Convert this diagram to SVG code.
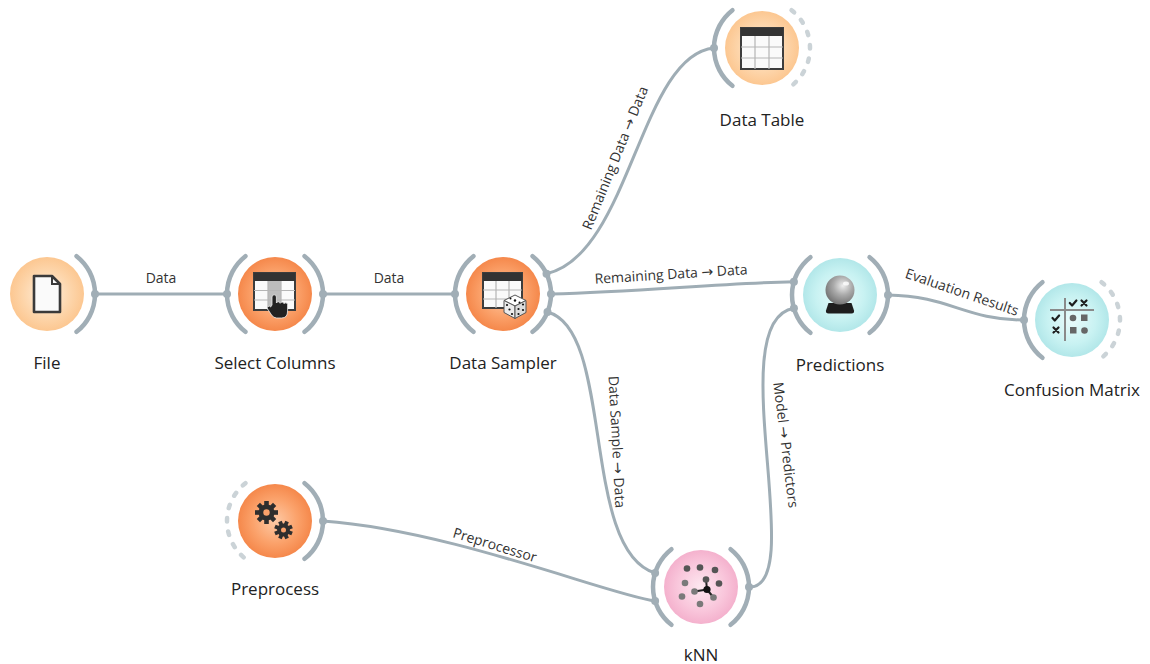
<svg xmlns="http://www.w3.org/2000/svg" width="1150" height="664" viewBox="0 0 1150 664">
<style>
.edge{fill:none;stroke:#9fadb5;stroke-width:3;stroke-linecap:round}
.arc{fill:none;stroke:#a1aeb6;stroke-width:4.5;stroke-linecap:round}
.arcd{fill:none;stroke:#cbd3d7;stroke-width:4.5;stroke-linecap:round;stroke-dasharray:3.5 10}
.anchor{fill:#a1aeb6}
.lbl{font-family:"Open Sans","Noto Sans","DejaVu Sans",sans-serif;font-size:17px;fill:#222;text-anchor:middle}
.elbl{font-family:"Open Sans","Noto Sans","DejaVu Sans",sans-serif;font-size:14px;fill:#333;text-anchor:middle}
.tbl{fill:#fafafa;stroke:#3d3d3d;stroke-width:2}
.hdr{fill:#333}
.grid{stroke:#b5b5b5;stroke-width:1.2;fill:none}
.gear{fill:#2e2e2e}
</style>
<defs>
<radialGradient id="gData" cx="50%" cy="50%" r="50%">
<stop offset="0" stop-color="#fff0df"/><stop offset="0.65" stop-color="#fdd5aa"/><stop offset="1" stop-color="#fcc791"/>
</radialGradient>
<radialGradient id="gTrans" cx="50%" cy="50%" r="50%">
<stop offset="0" stop-color="#fdcaa6"/><stop offset="0.6" stop-color="#fba26b"/><stop offset="1" stop-color="#f5884b"/>
</radialGradient>
<radialGradient id="gEval" cx="50%" cy="50%" r="50%">
<stop offset="0" stop-color="#eafbfb"/><stop offset="0.65" stop-color="#c8f2f2"/><stop offset="1" stop-color="#b2e7e9"/>
</radialGradient>
<radialGradient id="gModel" cx="50%" cy="50%" r="50%">
<stop offset="0" stop-color="#fde8f0"/><stop offset="0.65" stop-color="#f9c6db"/><stop offset="1" stop-color="#f4b1cd"/>
</radialGradient>
<radialGradient id="gBall" cx="60%" cy="35%" r="65%">
<stop offset="0" stop-color="#eeeeee"/><stop offset="0.5" stop-color="#aaaaaa"/><stop offset="1" stop-color="#767676"/>
</radialGradient>
<path id="arcR" d="M29.55,-37.82 A48,48 0 0 1 29.55,37.82"/>
<path id="arcL" d="M-29.55,-37.82 A48,48 0 0 0 -29.55,37.82"/>
<g id="gearBig">
<rect x="-2.3" y="-11.5" width="4.6" height="6" transform="rotate(0)"/>
<rect x="-2.3" y="-11.5" width="4.6" height="6" transform="rotate(45)"/>
<rect x="-2.3" y="-11.5" width="4.6" height="6" transform="rotate(90)"/>
<rect x="-2.3" y="-11.5" width="4.6" height="6" transform="rotate(135)"/>
<rect x="-2.3" y="-11.5" width="4.6" height="6" transform="rotate(180)"/>
<rect x="-2.3" y="-11.5" width="4.6" height="6" transform="rotate(225)"/>
<rect x="-2.3" y="-11.5" width="4.6" height="6" transform="rotate(270)"/>
<rect x="-2.3" y="-11.5" width="4.6" height="6" transform="rotate(315)"/>
<circle r="8"/>
</g>
<g id="gearSmall">
<rect x="-1.9" y="-9.3" width="3.8" height="5" transform="rotate(22.5)"/>
<rect x="-1.9" y="-9.3" width="3.8" height="5" transform="rotate(67.5)"/>
<rect x="-1.9" y="-9.3" width="3.8" height="5" transform="rotate(112.5)"/>
<rect x="-1.9" y="-9.3" width="3.8" height="5" transform="rotate(157.5)"/>
<rect x="-1.9" y="-9.3" width="3.8" height="5" transform="rotate(202.5)"/>
<rect x="-1.9" y="-9.3" width="3.8" height="5" transform="rotate(247.5)"/>
<rect x="-1.9" y="-9.3" width="3.8" height="5" transform="rotate(292.5)"/>
<rect x="-1.9" y="-9.3" width="3.8" height="5" transform="rotate(337.5)"/>
<circle r="6.4"/>
</g>
</defs>
<rect width="1150" height="664" fill="#ffffff"/>

<g id="connectors">
<path class="edge" d="M95,294 H227"/>
<text class="elbl" x="161" y="283">Data</text>
<path class="edge" d="M323,294 H455"/>
<text class="elbl" x="389" y="283">Data</text>
<path class="edge" d="M546.5,273.7 C630,255 640,55 714,48"/>
<text class="elbl" transform="translate(615,158) rotate(-68)" y="5">Remaining Data → Data</text>
<path class="edge" d="M551,294 C640,292 720,283 793.9,281.8"/>
<text class="elbl" transform="translate(671,274) rotate(-3.6)" y="5">Remaining Data → Data</text>
<path class="edge" d="M547.5,312 C615,330 580,550 655.1,573"/>
<text class="elbl" transform="translate(617,442) rotate(87)" y="5">Data Sample → Data</text>
<path class="edge" d="M749,587 C810,590 720,320 793.9,308.2"/>
<text class="elbl" transform="translate(786,445) rotate(83)" y="5">Model → Predictors</text>
<path class="edge" d="M888,295 C950,296 965,320 1024,320"/>
<text class="elbl" transform="translate(962,292) rotate(19)" y="5">Evaluation Results</text>
<path class="edge" d="M323,521 C450,530 610,595 655.1,601"/>
<text class="elbl" transform="translate(495,545) rotate(17)" y="5">Preprocessor</text>
</g>

<g id="node-file">
<circle cx="47" cy="294" r="37" fill="url(#gData)"/>
<use href="#arcR" x="47" y="294" class="arc"/>
<circle class="anchor" cx="95" cy="294" r="4"/>
<path d="M34,276 H52 L60,284 V312 H34 Z" fill="#fafafa" stroke="#3a3a3a" stroke-width="2.6" stroke-linejoin="round"/>
<path d="M52,276 V284 H60" fill="none" stroke="#3a3a3a" stroke-width="2"/>
<text class="lbl" x="47" y="369">File</text>
</g>

<g id="node-select-columns">
<circle cx="275" cy="294" r="37" fill="url(#gTrans)"/>
<use href="#arcL" x="275" y="294" class="arc"/>
<use href="#arcR" x="275" y="294" class="arc"/>
<circle class="anchor" cx="227" cy="294" r="4"/>
<circle class="anchor" cx="323" cy="294" r="4"/>
<rect class="tbl" x="254" y="273" width="41" height="37"/>
<rect x="268" y="281" width="13" height="29" fill="#bdbdbd"/>
<path class="grid" d="M268,281 V310 M281,281 V310 M254,290.5 H295 M254,300 H295"/>
<rect class="hdr" x="254" y="273" width="41" height="8"/>
<path d="M272,305 V297 a2.2,2.2 0 0 1 4.4,0 V303 a2,2 0 0 1 3.8,0.3 a2,2 0 0 1 3.8,0.4 a2,2 0 0 1 3.6,0.6 V311 q0,7 -6,7 h-5 q-3,0 -5,-3 l-4,-6 a1.8,1.8 0 0 1 3,-2 z" fill="#222" stroke="#eeeeee" stroke-width="0.8"/>
<text class="lbl" x="275" y="369">Select Columns</text>
</g>

<g id="node-data-sampler">
<circle cx="503" cy="294" r="37" fill="url(#gTrans)"/>
<use href="#arcL" x="503" y="294" class="arc"/>
<use href="#arcR" x="503" y="294" class="arc"/>
<circle class="anchor" cx="455" cy="294" r="4"/>
<circle class="anchor" cx="546.5" cy="273.7" r="4"/>
<circle class="anchor" cx="551" cy="294" r="4"/>
<circle class="anchor" cx="547.5" cy="312" r="4"/>
<rect class="tbl" x="483" y="273" width="39" height="35"/>
<path class="grid" d="M496,281 V308 M509,281 V308 M483,290 H522 M483,299 H522"/>
<rect class="hdr" x="483" y="273" width="39" height="8"/>
<g stroke="#555" stroke-width="1" stroke-linejoin="round">
<polygon points="515,295 526,300.5 515,306 504,300.5" fill="#ffffff"/>
<polygon points="504,300.5 515,306 515,318.5 504,312.5" fill="#ececec"/>
<polygon points="515,306 526,300.5 526,312.5 515,318.5" fill="#dcdcdc"/>
</g>
<g fill="#111">
<circle cx="515" cy="300.5" r="1.2"/><circle cx="510.5" cy="298.5" r="1"/><circle cx="519.5" cy="302.5" r="1"/>
<circle cx="507" cy="305" r="1.1"/><circle cx="509.5" cy="309.5" r="1.1"/><circle cx="512" cy="314" r="1.1"/>
<circle cx="518.5" cy="309" r="1.1"/><circle cx="523" cy="304.5" r="1.1"/><circle cx="518.5" cy="314" r="1.1"/><circle cx="523" cy="310" r="1.1"/>
</g>
<text class="lbl" x="503" y="369">Data Sampler</text>
</g>

<g id="node-data-table">
<circle cx="762" cy="48" r="37" fill="url(#gData)"/>
<use href="#arcL" x="762" y="48" class="arc"/>
<use href="#arcR" x="762" y="48" class="arcd"/>
<circle class="anchor" cx="714" cy="48" r="4"/>
<rect class="tbl" x="741" y="28" width="42" height="41"/>
<path class="grid" d="M755,36 V69 M769,36 V69 M741,47 H783 M741,58 H783"/>
<rect class="hdr" x="741" y="28" width="42" height="8"/>
<text class="lbl" x="762" y="126">Data Table</text>
</g>

<g id="node-predictions">
<circle cx="840" cy="295" r="37" fill="url(#gEval)"/>
<use href="#arcL" x="840" y="295" class="arc"/>
<use href="#arcR" x="840" y="295" class="arc"/>
<circle class="anchor" cx="793.9" cy="281.8" r="4"/>
<circle class="anchor" cx="793.9" cy="308.2" r="4"/>
<circle class="anchor" cx="888" cy="295" r="4"/>
<path d="M828.5,303 H851.5 L854,310.5 Q854.5,313.5 851.5,313.5 H828.5 Q825.5,313.5 826,310.5 Z" fill="#1e1e1e"/>
<circle cx="840" cy="290" r="14.5" fill="url(#gBall)"/>
<ellipse cx="846" cy="283.5" rx="3" ry="2" fill="#ffffff" opacity="0.8"/>
<text class="lbl" x="840" y="371">Predictions</text>
</g>

<g id="node-confusion-matrix">
<circle cx="1072" cy="320" r="37" fill="url(#gEval)"/>
<use href="#arcL" x="1072" y="320" class="arc"/>
<use href="#arcR" x="1072" y="320" class="arcd"/>
<circle class="anchor" cx="1024" cy="320" r="4"/>
<path d="M1065,298 V341 M1050,310 H1094" stroke="#8a8a8a" stroke-width="2" fill="none"/>
<g stroke="#1e1e1e" stroke-width="2.2" fill="none" stroke-linecap="round" stroke-linejoin="round">
<path d="M1069.8,303 l2.3,2.5 l4.3,-5"/>
<path d="M1081.5,300.5 l5,5 M1086.5,300.5 l-5,5"/>
<path d="M1052.5,318 l2.3,2.5 l4.3,-5"/>
<path d="M1053.5,327.5 l5,5 M1058.5,327.5 l-5,5"/>
</g>
<g fill="#666">
<circle cx="1073" cy="318" r="3.3"/>
<rect x="1081" y="314.5" width="6.5" height="6.5"/>
<rect x="1070" y="327" width="6.5" height="6.5"/>
<circle cx="1084.5" cy="330.5" r="3.3"/>
</g>
<text class="lbl" x="1072" y="396">Confusion Matrix</text>
</g>

<g id="node-preprocess">
<circle cx="275" cy="521" r="37" fill="url(#gTrans)"/>
<use href="#arcL" x="275" y="521" class="arcd"/>
<use href="#arcR" x="275" y="521" class="arc"/>
<circle class="anchor" cx="323" cy="521" r="4"/>
<use href="#gearBig" x="266.5" y="512.5" class="gear"/>
<circle cx="266.5" cy="512.5" r="3.2" fill="#fba26b"/>
<use href="#gearSmall" x="283.5" y="530" class="gear"/>
<circle cx="283.5" cy="530" r="2.5" fill="#fba26b"/>
<text class="lbl" x="275" y="595">Preprocess</text>
</g>

<g id="node-knn">
<circle cx="701" cy="587" r="37" fill="url(#gModel)"/>
<use href="#arcL" x="701" y="587" class="arc"/>
<use href="#arcR" x="701" y="587" class="arc"/>
<circle class="anchor" cx="655.1" cy="573" r="4"/>
<circle class="anchor" cx="655.1" cy="601" r="4"/>
<circle class="anchor" cx="749" cy="587" r="4"/>
<path d="M707,589.5 L706,579.5 M707,589.5 L694.5,591.5 M707,589.5 L713.5,597.5" stroke="#222" stroke-width="2"/>
<g fill="#555">
<circle cx="687" cy="568.5" r="3.3"/><circle cx="700" cy="567.5" r="3.3"/><circle cx="715" cy="570" r="3.3"/>
<circle cx="706" cy="579.5" r="3.3"/><circle cx="719" cy="583.5" r="3.3"/>
</g>
<g fill="#7a7a7a">
<circle cx="685" cy="583" r="3.3"/><circle cx="682" cy="596.5" r="3.3"/><circle cx="694.5" cy="591.5" r="3.3"/>
<circle cx="713.5" cy="597.5" r="3.3"/><circle cx="700" cy="604" r="3.3"/>
</g>
<circle cx="707" cy="589.5" r="3.6" fill="#111"/>
<text class="lbl" x="701" y="661">kNN</text>
</g>
</svg>
